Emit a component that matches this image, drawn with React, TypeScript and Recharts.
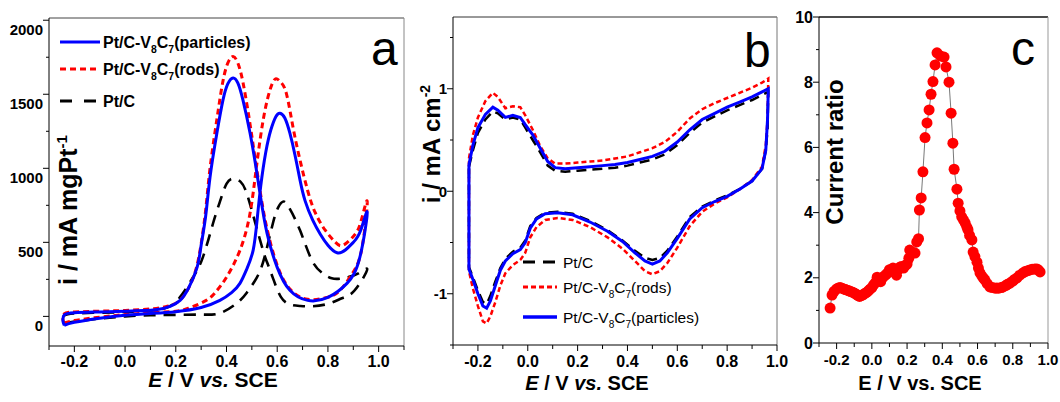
import { LineChart, Line, XAxis, YAxis, ReferenceLine } from "recharts";

const FONT = "'Liberation Sans', Arial, Helvetica, sans-serif";

// (a) methanol oxidation CVs, mass activity. [E (V vs SCE), i (mA mgPt-1)], forward scan then reverse.
const aParticles: [number, number][] = [
  [-0.24, -60], [-0.2, -40], [-0.1, -12], [0, 8], [0.1, 20], [0.2, 32], [0.3, 60], [0.374, 108],
  [0.42, 160], [0.453, 223], [0.48, 320], [0.505, 446], [0.52, 640], [0.535, 880], [0.555, 1110],
  [0.575, 1260], [0.595, 1350], [0.611, 1372], [0.63, 1340], [0.65, 1237], [0.67, 1090], [0.69, 920],
  [0.71, 780], [0.74, 650], [0.77, 555], [0.8, 480], [0.836, 430], [0.87, 450], [0.9, 500], [0.93, 585],
  [0.955, 700],
  [0.926, 400], [0.875, 223], [0.8, 128], [0.72, 108], [0.65, 176], [0.6, 331], [0.56, 561],
  [0.535, 800], [0.515, 1020], [0.493, 1237], [0.465, 1460], [0.445, 1575], [0.426, 1610], [0.405, 1570],
  [0.386, 1460], [0.362, 1237], [0.335, 940], [0.318, 680], [0.3, 480], [0.284, 331], [0.25, 190],
  [0.217, 108], [0.18, 70], [0.12, 45], [0, 35], [-0.1, 30], [-0.2, 25], [-0.24, 10], [-0.245, -30],
  [-0.24, -60],
];
const aRods: [number, number][] = [
  [-0.24, -45], [-0.2, -28], [-0.1, -5], [0, 12], [0.1, 25], [0.2, 35], [0.25, 55], [0.32, 108],
  [0.36, 170], [0.4, 264], [0.453, 446], [0.49, 670], [0.51, 899], [0.525, 1100], [0.545, 1330],
  [0.565, 1490], [0.58, 1570], [0.595, 1605], [0.615, 1580], [0.637, 1500], [0.662, 1280], [0.69, 1055],
  [0.72, 850], [0.75, 700], [0.79, 580], [0.83, 500], [0.86, 480], [0.9, 540], [0.93, 640], [0.955, 775],
  [0.935, 470], [0.9, 300], [0.85, 180], [0.8, 130], [0.72, 115], [0.65, 185], [0.6, 345], [0.56, 590],
  [0.535, 820], [0.51, 1100], [0.49, 1330], [0.465, 1580], [0.445, 1710], [0.426, 1755], [0.405, 1710],
  [0.385, 1580], [0.362, 1330], [0.335, 1000], [0.318, 720], [0.3, 490], [0.28, 320], [0.25, 190],
  [0.21, 100], [0.16, 65], [0.1, 50], [0, 40], [-0.1, 35], [-0.2, 30], [-0.24, 18], [-0.245, -20],
  [-0.24, -45],
];
const aPtC: [number, number][] = [
  [-0.24, -50], [-0.2, -35], [-0.1, -15], [0, 0], [0.1, 8], [0.2, 10], [0.3, 12], [0.374, 22], [0.44, 88],
  [0.48, 160], [0.52, 264], [0.55, 400], [0.583, 629], [0.605, 740], [0.623, 775], [0.645, 740],
  [0.69, 581], [0.737, 378], [0.78, 290], [0.815, 257], [0.85, 255], [0.88, 265], [0.92, 290], [0.955, 320],
  [0.926, 223], [0.89, 150], [0.855, 122], [0.8, 85], [0.74, 68], [0.69, 70], [0.65, 80], [0.615, 130],
  [0.585, 250], [0.56, 365], [0.545, 440], [0.512, 640], [0.48, 830], [0.455, 910], [0.426, 930],
  [0.4, 895], [0.375, 780], [0.347, 629], [0.307, 400], [0.268, 264], [0.216, 128], [0.165, 60],
  [0.1, 40], [0, 30], [-0.1, 25], [-0.2, 20], [-0.24, 5], [-0.245, -25], [-0.24, -50],
];
const aXTicks = [-0.3, -0.2, -0.1, 0, 0.1, 0.2, 0.3, 0.4, 0.5, 0.6, 0.7, 0.8, 0.9, 1.0, 1.1];
const aXLabels = [-0.2, 0, 0.2, 0.4, 0.6, 0.8, 1.0];
const aYTicks = [0, 250, 500, 750, 1000, 1250, 1500, 1750, 2000];
const aYLabels = [0, 500, 1000, 1500, 2000];

// (b) CVs in H2SO4. [E, i (mA cm-2)], anodic sweep then cathodic sweep.
const bParticles: [number, number][] = [
  [-0.236, 0.26], [-0.22, 0.45], [-0.2, 0.62], [-0.17, 0.75], [-0.14, 0.82], [-0.12, 0.79], [-0.09, 0.72],
  [-0.06, 0.74], [-0.03, 0.72], [-0.01, 0.65], [0.02, 0.55], [0.05, 0.42], [0.08, 0.29], [0.11, 0.23],
  [0.15, 0.22], [0.2, 0.23], [0.25, 0.24], [0.3, 0.25], [0.35, 0.26], [0.4, 0.28], [0.45, 0.31],
  [0.5, 0.34], [0.55, 0.39], [0.6, 0.48], [0.65, 0.6], [0.7, 0.7], [0.75, 0.76], [0.8, 0.82], [0.85, 0.87],
  [0.9, 0.92], [0.94, 0.97], [0.965, 1.0],
  [0.962, 0.7], [0.955, 0.4], [0.94, 0.22], [0.9, 0.1], [0.85, 0.02], [0.8, -0.05], [0.75, -0.1],
  [0.7, -0.16], [0.65, -0.27], [0.6, -0.46], [0.56, -0.6], [0.53, -0.68], [0.5, -0.71], [0.47, -0.68],
  [0.43, -0.6], [0.38, -0.49], [0.32, -0.39], [0.25, -0.3], [0.18, -0.23], [0.12, -0.21], [0.07, -0.22],
  [0.035, -0.27], [0.01, -0.36], [-0.01, -0.5], [-0.03, -0.57], [-0.06, -0.61], [-0.09, -0.68],
  [-0.11, -0.77], [-0.13, -0.92], [-0.15, -1.07], [-0.165, -1.14], [-0.18, -1.12], [-0.2, -1.0],
  [-0.22, -0.86], [-0.236, -0.76], [-0.236, 0.26],
];
const bRods: [number, number][] = [
  [-0.236, 0.32], [-0.22, 0.55], [-0.2, 0.72], [-0.17, 0.88], [-0.14, 0.96], [-0.12, 0.92], [-0.09, 0.81],
  [-0.06, 0.83], [-0.03, 0.82], [-0.01, 0.74], [0.02, 0.6], [0.05, 0.44], [0.08, 0.32], [0.11, 0.27],
  [0.15, 0.27], [0.2, 0.28], [0.25, 0.29], [0.3, 0.3], [0.35, 0.32], [0.4, 0.34], [0.45, 0.38],
  [0.5, 0.42], [0.55, 0.48], [0.6, 0.58], [0.65, 0.71], [0.7, 0.8], [0.75, 0.86], [0.8, 0.91], [0.85, 0.96],
  [0.9, 1.01], [0.94, 1.06], [0.965, 1.1],
  [0.962, 0.7], [0.955, 0.45], [0.94, 0.24], [0.9, 0.11], [0.85, 0.02], [0.8, -0.06], [0.75, -0.12],
  [0.7, -0.2], [0.65, -0.34], [0.6, -0.55], [0.56, -0.7], [0.53, -0.78], [0.5, -0.81], [0.47, -0.78],
  [0.43, -0.68], [0.38, -0.56], [0.32, -0.45], [0.25, -0.35], [0.18, -0.28], [0.12, -0.26], [0.07, -0.28],
  [0.035, -0.35], [0.01, -0.45], [-0.01, -0.6], [-0.03, -0.67], [-0.06, -0.72], [-0.09, -0.8],
  [-0.11, -0.92], [-0.13, -1.08], [-0.15, -1.22], [-0.165, -1.29], [-0.18, -1.27], [-0.2, -1.12],
  [-0.22, -0.95], [-0.236, -0.78], [-0.236, 0.32],
];
const bPtC: [number, number][] = [
  [-0.236, 0.24], [-0.22, 0.4], [-0.2, 0.57], [-0.17, 0.7], [-0.14, 0.78], [-0.12, 0.76], [-0.09, 0.7],
  [-0.06, 0.72], [-0.03, 0.7], [-0.01, 0.62], [0.02, 0.5], [0.05, 0.38], [0.08, 0.25], [0.11, 0.2],
  [0.15, 0.19], [0.2, 0.2], [0.25, 0.21], [0.3, 0.22], [0.35, 0.23], [0.4, 0.25], [0.45, 0.28],
  [0.5, 0.31], [0.55, 0.36], [0.6, 0.45], [0.65, 0.57], [0.7, 0.67], [0.75, 0.73], [0.8, 0.79], [0.85, 0.84],
  [0.9, 0.89], [0.94, 0.94], [0.965, 0.97],
  [0.962, 0.6], [0.955, 0.4], [0.94, 0.22], [0.9, 0.1], [0.85, 0.02], [0.8, -0.04], [0.75, -0.09],
  [0.7, -0.15], [0.65, -0.25], [0.6, -0.44], [0.56, -0.58], [0.53, -0.65], [0.5, -0.67], [0.47, -0.65],
  [0.43, -0.58], [0.38, -0.48], [0.32, -0.38], [0.25, -0.29], [0.18, -0.22], [0.12, -0.2], [0.07, -0.21],
  [0.035, -0.26], [0.01, -0.34], [-0.01, -0.48], [-0.03, -0.55], [-0.06, -0.59], [-0.09, -0.66],
  [-0.11, -0.75], [-0.13, -0.88], [-0.15, -1.02], [-0.165, -1.1], [-0.18, -1.08], [-0.2, -0.97],
  [-0.22, -0.84], [-0.236, -0.74], [-0.236, 0.24],
];
const bXTicks = [-0.3, -0.2, -0.1, 0, 0.1, 0.2, 0.3, 0.4, 0.5, 0.6, 0.7, 0.8, 0.9, 1.0];
const bXLabels = [-0.2, 0, 0.2, 0.4, 0.6, 0.8, 1.0];
const bYTicks = [-1.5, -1, -0.5, 0, 0.5, 1, 1.5];
const bYLabels = [-1, 0, 1];

// (c) current ratio vs potential
const ratioPoints: [number, number][] = [
  [-0.237, 1.07], [-0.226, 1.47], [-0.215, 1.58], [-0.2, 1.66], [-0.19, 1.69], [-0.18, 1.7], [-0.17, 1.68],
  [-0.16, 1.66], [-0.15, 1.64], [-0.14, 1.62], [-0.13, 1.6], [-0.12, 1.58], [-0.11, 1.56], [-0.1, 1.53],
  [-0.09, 1.5], [-0.08, 1.46], [-0.07, 1.43], [-0.06, 1.45], [-0.05, 1.48], [-0.04, 1.52], [-0.03, 1.55],
  [-0.02, 1.6], [-0.01, 1.65], [0, 1.7], [0.01, 1.78], [0.02, 1.85], [0.03, 2.02], [0.04, 1.95],
  [0.05, 1.88], [0.06, 2.0], [0.07, 2.05], [0.08, 2.1], [0.09, 2.15], [0.1, 2.25], [0.11, 2.2],
  [0.12, 2.3], [0.13, 2.2], [0.14, 2.08], [0.15, 2.25], [0.16, 2.33], [0.17, 2.35], [0.18, 2.3],
  [0.19, 2.38], [0.2, 2.42], [0.21, 2.6], [0.215, 2.85], [0.23, 2.78], [0.245, 2.76], [0.255, 3.1],
  [0.265, 3.2], [0.27, 4.08], [0.28, 4.45], [0.29, 5.25], [0.302, 6.3], [0.313, 6.75], [0.325, 7.15],
  [0.336, 7.63], [0.347, 8.02], [0.359, 8.53], [0.37, 8.9], [0.39, 8.8], [0.41, 8.77], [0.421, 8.47],
  [0.438, 8.0], [0.45, 7.05], [0.46, 6.13], [0.467, 5.33], [0.483, 4.72], [0.49, 4.29], [0.5, 4.05],
  [0.51, 3.87], [0.52, 3.78], [0.53, 3.68], [0.54, 3.55], [0.546, 3.47], [0.555, 3.3], [0.568, 3.16],
  [0.575, 2.79], [0.585, 2.65], [0.597, 2.48], [0.605, 2.3], [0.614, 2.15], [0.625, 2.05], [0.635, 1.98],
  [0.642, 1.93], [0.655, 1.82], [0.67, 1.72], [0.685, 1.7], [0.7, 1.68], [0.71, 1.69], [0.72, 1.68],
  [0.735, 1.7], [0.745, 1.72], [0.76, 1.76], [0.77, 1.8], [0.784, 1.84], [0.8, 1.9], [0.81, 1.95],
  [0.824, 2.0], [0.84, 2.08], [0.858, 2.15], [0.87, 2.19], [0.885, 2.22], [0.897, 2.24], [0.91, 2.26],
  [0.925, 2.27], [0.937, 2.27], [0.945, 2.24], [0.955, 2.18],
];
const cXTicks = [-0.3, -0.2, -0.1, 0, 0.1, 0.2, 0.3, 0.4, 0.5, 0.6, 0.7, 0.8, 0.9, 1.0];
const cXLabels = [-0.2, 0, 0.2, 0.4, 0.6, 0.8, 1.0];
const cYTicks = [0, 1, 2, 3, 4, 5, 6, 7, 8, 9, 10];
const cYLabels = [0, 2, 4, 6, 8, 10];

const toRows = (pts: [number, number][]) => pts.map(([E, i]) => ({ E, i }));

function yTick(labels: number[], size: number, dy = 0) {
  return (p: any) => {
    const v = p.payload.value;
    const major = labels.includes(v);
    return (
      <g>
        <line x1={p.x} x2={p.x - (major ? 6 : 3)} y1={p.y} y2={p.y} stroke="#000" />
        {major && (
          <text x={p.x - 6} y={p.y + dy} textAnchor="end" dominantBaseline="central"
            fontFamily={FONT} fontWeight="bold" fontSize={size} fill="#000">
            {String(v)}
          </text>
        )}
      </g>
    );
  };
}

function xTick(labels: number[], size: number, dy: number) {
  return (p: any) => {
    const v = p.payload.value;
    const major = labels.includes(v);
    return (
      <g>
        <line x1={p.x} x2={p.x} y1={p.y} y2={p.y + (major ? 6 : 4)} stroke="#000" />
        {major && (
          <text x={p.x} y={p.y + dy} textAnchor="middle" fontFamily={FONT} fontWeight="bold"
            fontSize={size} fill="#000">
            {v.toFixed(1)}
          </text>
        )}
      </g>
    );
  };
}

function Catalyst({ x, y, tail, size, bold }: { x: number; y: number; tail: string; size: number; bold?: boolean }) {
  return (
    <text x={x} y={y} fontFamily={FONT} fontSize={size} fontWeight={bold ? "bold" : "normal"} fill="#000">
      Pt/C-V<tspan fontSize={size * 0.65} dy={5}>8</tspan>
      <tspan dy={-5}>C</tspan>
      <tspan fontSize={size * 0.65} dy={5}>7</tspan>
      <tspan dy={-5}>({tail})</tspan>
    </text>
  );
}

function PanelA() {
  return (
    <LineChart width={410} height={402} margin={{ top: 18, right: 6, bottom: 0, left: 0 }}>
      <XAxis type="number" dataKey="E" domain={[-0.3, 1.1]} ticks={aXTicks} interval={0} allowDataOverflow
        height={56} tickSize={0} tickMargin={0} tickLine={false} stroke="#000" tick={xTick(aXLabels, 16, 21)} />
      <YAxis type="number" domain={[-200, 2015]} ticks={aYTicks} interval={0} allowDataOverflow width={49}
        tickSize={0} tickMargin={0} tickLine={false} stroke="#000" tick={yTick(aYLabels, 15, 9)} />
      <ReferenceLine y={2015} stroke="#444" />
      <ReferenceLine x={1.1} stroke="#888" />
      <Line data={toRows(aPtC)} dataKey="i" type="natural" stroke="#000" strokeWidth={2.6}
        strokeDasharray="12 8" dot={false} activeDot={false} isAnimationActive={false} />
      <Line data={toRows(aRods)} dataKey="i" type="natural" stroke="#ff0000" strokeWidth={3}
        strokeDasharray="6 4" dot={false} activeDot={false} isAnimationActive={false} />
      <Line data={toRows(aParticles)} dataKey="i" type="natural" stroke="#0000ff" strokeWidth={3}
        dot={false} activeDot={false} isAnimationActive={false} />
    </LineChart>
  );
}

function PanelB() {
  return (
    <LineChart width={390} height={402} margin={{ top: 17, right: 23, bottom: 0, left: 0 }}>
      <XAxis type="number" dataKey="E" domain={[-0.3, 1.0]} ticks={bXTicks} interval={0} allowDataOverflow
        height={57} tickSize={0} tickMargin={0} tickLine={false} stroke="#000" tick={xTick(bXLabels, 16, 22)} />
      <YAxis type="number" domain={[-1.5, 1.7]} ticks={bYTicks} interval={0} allowDataOverflow width={43}
        tickSize={0} tickMargin={0} tickLine={false} stroke="#000" tick={yTick(bYLabels, 15)} />
      <ReferenceLine y={1.7} stroke="#333" />
      <ReferenceLine x={1.0} stroke="#777" />
      <Line data={toRows(bRods)} dataKey="i" type="linear" stroke="#ff0000" strokeWidth={2.5}
        strokeDasharray="5 3" dot={false} activeDot={false} isAnimationActive={false} />
      <Line data={toRows(bPtC)} dataKey="i" type="linear" stroke="#000" strokeWidth={2.5}
        strokeDasharray="10 6" dot={false} activeDot={false} isAnimationActive={false} />
      <Line data={toRows(bParticles)} dataKey="i" type="linear" stroke="#0000ff" strokeWidth={3}
        dot={false} activeDot={false} isAnimationActive={false} />
    </LineChart>
  );
}

function PanelC() {
  return (
    <LineChart width={280} height={402} margin={{ top: 17, right: 12, bottom: 0, left: 0 }}>
      <XAxis type="number" dataKey="E" domain={[-0.3, 1.0]} ticks={cXTicks} interval={0} allowDataOverflow
        height={59} tickSize={0} tickMargin={0} tickLine={false} stroke="#000" tick={xTick(cXLabels, 15, 22)} />
      <YAxis type="number" domain={[0, 10]} ticks={cYTicks} interval={0} allowDataOverflow width={39}
        tickSize={0} tickMargin={0} tickLine={false} stroke="#000" tick={yTick(cYLabels, 16)} />
      <ReferenceLine y={10} stroke="#111" strokeWidth={1.5} />
      <ReferenceLine x={1.0} stroke="#999" />
      <Line data={toRows(ratioPoints)} dataKey="i" type="linear" stroke="#555" strokeWidth={0.8}
        dot={{ r: 5.5, fill: "#ff0000", stroke: "none" }} activeDot={false} isAnimationActive={false} />
    </LineChart>
  );
}

export default function App() {
  return (
    <div style={{ position: "absolute", left: 0, top: 0, width: 1060, height: 402, background: "#fff" }}>
      <div style={{ position: "absolute", left: 0, top: 0 }}><PanelA /></div>
      <div style={{ position: "absolute", left: 410, top: 0 }}><PanelB /></div>
      <div style={{ position: "absolute", left: 780, top: 0 }}><PanelC /></div>
      <svg width={1060} height={402} style={{ position: "absolute", left: 0, top: 0, pointerEvents: "none" }}>
        {/* panel letters */}
        <text x={371} y={65} fontFamily={FONT} fontSize={48}>a</text>
        <text x={744} y={67} fontFamily={FONT} fontSize={48}>b</text>
        <text x={1011} y={65} fontFamily={FONT} fontSize={48}>c</text>

        {/* legend a */}
        <line x1={60} x2={100} y1={42} y2={42} stroke="#0000ff" strokeWidth={3} />
        <Catalyst x={103} y={48} tail="particles" size={16} bold />
        <line x1={60} x2={98} y1={69} y2={69} stroke="#ff0000" strokeWidth={3} strokeDasharray="6 4" />
        <Catalyst x={103} y={75} tail="rods" size={16} bold />
        <line x1={60} x2={98} y1={101} y2={101} stroke="#000" strokeWidth={3} strokeDasharray="12 12" />
        <text x={103} y={107} fontFamily={FONT} fontSize={16} fontWeight="bold">Pt/C</text>

        {/* legend b */}
        <line x1={523} x2={557} y1={262} y2={262} stroke="#000" strokeWidth={3} strokeDasharray="12 8" />
        <text x={563} y={267.5} fontFamily={FONT} fontSize={15.5}>Pt/C</text>
        <line x1={523} x2={557} y1={287} y2={287} stroke="#ff0000" strokeWidth={3} strokeDasharray="5 3" />
        <Catalyst x={563} y={292.5} tail="rods" size={15.5} />
        <line x1={523} x2={557} y1={317} y2={317} stroke="#0000ff" strokeWidth={3.5} />
        <Catalyst x={563} y={322.5} tail="particles" size={15.5} />

        {/* axis titles */}
        <text x={213} y={387} textAnchor="middle" fontFamily={FONT} fontSize={21} fontWeight="bold">
          <tspan fontStyle="italic">E</tspan> / V <tspan fontStyle="italic">vs.</tspan> SCE
        </text>
        <text x={587} y={390} textAnchor="middle" fontFamily={FONT} fontSize={20} fontWeight="bold">
          <tspan fontStyle="italic">E</tspan> / V <tspan fontStyle="italic">vs.</tspan> SCE
        </text>
        <text x={920} y={390} textAnchor="middle" fontFamily={FONT} fontSize={20} fontWeight="bold">
          E / V vs. SCE
        </text>
        <text transform="translate(77,210) rotate(-90)" textAnchor="middle" fontFamily={FONT} fontSize={25} fontWeight="bold">
          i / mA mgPt<tspan fontSize={15} dy={-10}>-1</tspan>
        </text>
        <text transform="translate(440,144) rotate(-90)" textAnchor="middle" fontFamily={FONT} fontSize={24} fontWeight="bold">
          i / mA cm<tspan fontSize={14} dy={-10}>-2</tspan>
        </text>
        <text transform="translate(843,152) rotate(-90)" textAnchor="middle" fontFamily={FONT} fontSize={24} fontWeight="bold">
          Current ratio
        </text>
      </svg>
    </div>
  );
}
